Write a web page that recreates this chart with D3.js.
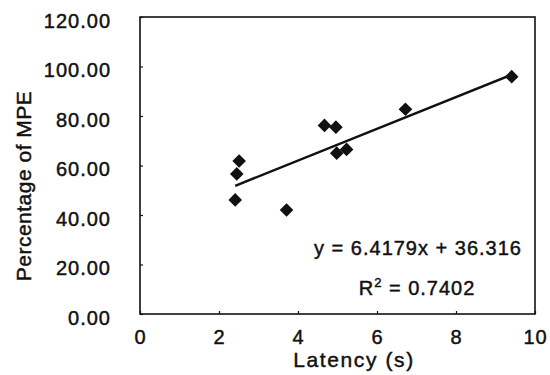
<!DOCTYPE html>
<html>
<head>
<meta charset="utf-8">
<script src="https://cdn.jsdelivr.net/npm/d3@7"></script>
<style>
  html, body { margin: 0; padding: 0; background: #fff; }
  svg { display: block; font-family: "Liberation Sans", Arial, Helvetica, sans-serif; }
  svg text { stroke: #111; stroke-width: 0.45px; }
</style>
</head>
<body>
<svg id="chart" width="550" height="375"></svg>
<script>
// ---- data ----
const latency = [2.41, 2.45, 2.51, 3.71, 4.67, 4.96, 4.98, 5.23, 6.72, 9.41];
const percentMPE = [46.1, 56.6, 61.8, 42.0, 76.2, 75.5, 65.0, 66.5, 82.7, 95.9];
const xTicks = [0, 2, 4, 6, 8, 10];
const yTicks = [0, 20, 40, 60, 80, 100, 120];
const trendSlope = 6.4179;
const trendIntercept = 36.316;
const rSquared = "0.7402";

// ---- layout ----
const svg = d3.select("#chart");
const plotL = 140, plotR = 535, plotT = 17, plotB = 314;
const x = d3.scaleLinear().domain([0, 10]).range([plotL, plotR]);
const y = d3.scaleLinear().domain([0, 120]).range([plotB, plotT]);
const ink = "#111";

// frame
svg.append("rect")
  .attr("x", plotL).attr("y", plotT)
  .attr("width", plotR - plotL).attr("height", plotB - plotT)
  .attr("fill", "none").attr("stroke", ink).attr("stroke-width", 1.6);

// y axis (ticks inside, labels outside)
const yAxis = d3.axisLeft(y).tickValues(yTicks).tickSize(-3).tickPadding(29)
  .tickFormat(d3.format(".2f"));
const gy = svg.append("g").attr("transform", `translate(${plotL},0)`).call(yAxis);
gy.select(".domain").remove();
gy.selectAll(".tick line").attr("stroke", ink).attr("stroke-width", 1.2);
gy.selectAll(".tick text")
  .attr("font-size", 20).attr("fill", ink).attr("letter-spacing", 1)
  .attr("dy", "0.72em").attr("y", -4);

// x axis
const xAxis = d3.axisBottom(x).tickValues(xTicks).tickSize(-3).tickPadding(16)
  .tickFormat(d3.format("d"));
const gx = svg.append("g").attr("transform", `translate(0,${plotB})`).call(xAxis);
gx.select(".domain").remove();
gx.selectAll(".tick line").attr("stroke", ink).attr("stroke-width", 1.2);
gx.selectAll(".tick text")
  .attr("font-size", 20).attr("fill", ink).attr("letter-spacing", 1);

// axis titles
svg.append("text")
  .attr("x", 354).attr("y", 367)
  .attr("text-anchor", "middle")
  .attr("font-size", 21).attr("letter-spacing", 1.6).attr("fill", ink)
  .text("Latency (s)");

svg.append("text")
  .attr("transform", "translate(31,186) rotate(-90)")
  .attr("text-anchor", "middle")
  .attr("font-size", 21).attr("letter-spacing", 0.5).attr("fill", ink)
  .text("Percentage of MPE");

// trendline
const xMin = d3.min(latency), xMax = d3.max(latency);
svg.append("line")
  .attr("x1", x(xMin)).attr("y1", y(trendSlope * xMin + trendIntercept))
  .attr("x2", x(xMax)).attr("y2", y(trendSlope * xMax + trendIntercept))
  .attr("stroke", ink).attr("stroke-width", 2.5);

// points (diamonds)
const r = 6.8;
svg.append("g").selectAll("path")
  .data(latency.map((d, i) => [d, percentMPE[i]]))
  .join("path")
  .attr("transform", d => `translate(${x(d[0])},${y(d[1])})`)
  .attr("d", `M0,${-r}L${r},0L0,${r}L${-r},0Z`)
  .attr("fill", ink);

// equation labels
svg.append("text")
  .attr("x", 418).attr("y", 255)
  .attr("text-anchor", "middle")
  .attr("font-size", 20).attr("letter-spacing", 1).attr("fill", ink)
  .text(`y = ${trendSlope}x + ${trendIntercept}`);

const r2 = svg.append("text")
  .attr("x", 417).attr("y", 295)
  .attr("text-anchor", "middle")
  .attr("font-size", 20).attr("letter-spacing", 1).attr("fill", ink);
r2.append("tspan").text("R");
r2.append("tspan").attr("font-size", 13).attr("dy", -8).text("2");
r2.append("tspan").attr("dy", 8).text(` = ${rSquared}`);
</script>
</body>
</html>
